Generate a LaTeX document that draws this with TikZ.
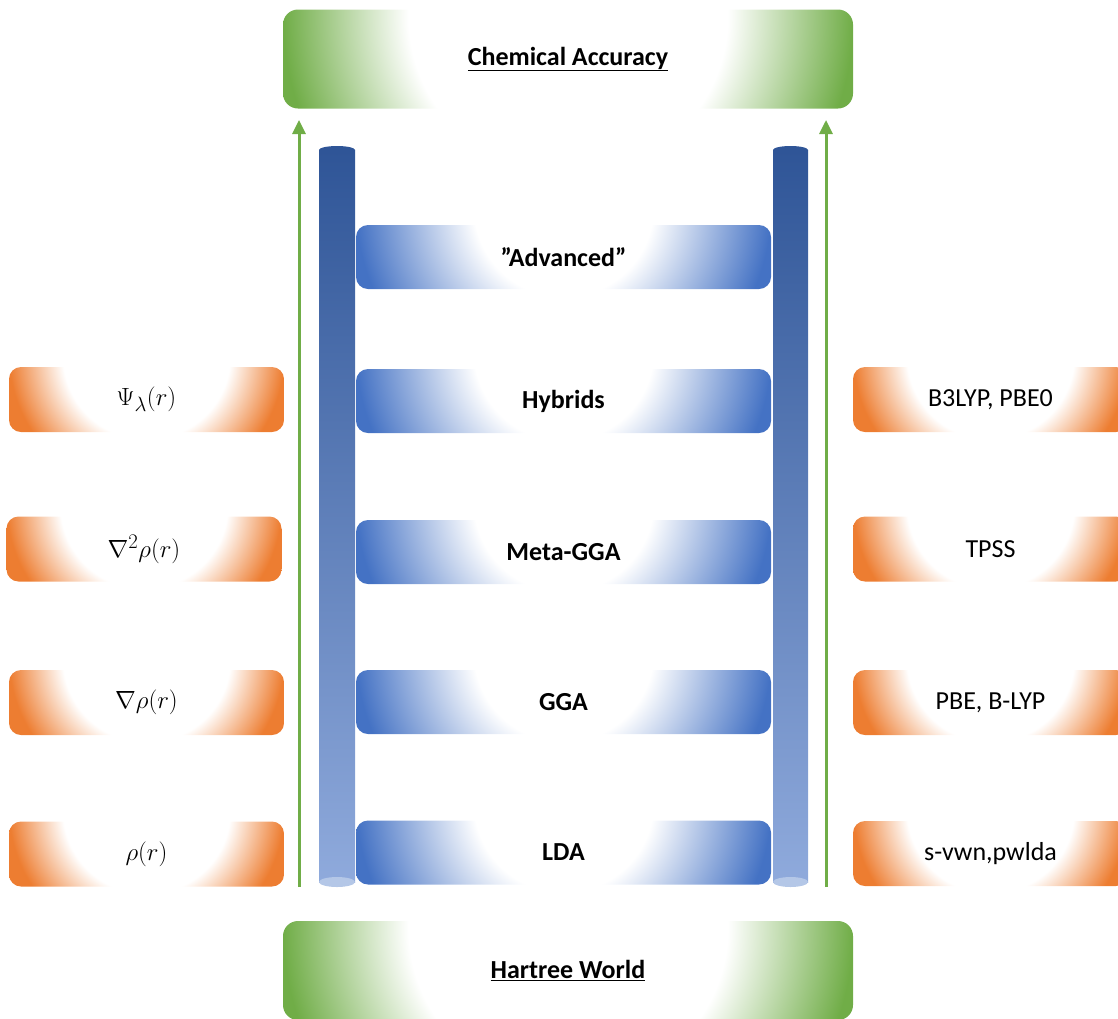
\documentclass[tikz,border=0pt]{standalone}
\usepackage{fontspec}
\setmainfont{Carlito}
\usetikzlibrary{calc,arrows.meta}
\definecolor{grn}{HTML}{70AD47}
\definecolor{blu}{HTML}{4472C4}
\definecolor{org}{HTML}{ED7D31}
\definecolor{raildark}{HTML}{2F5597}
\definecolor{raillight}{HTML}{8FAADC}
\definecolor{railcap}{HTML}{B4C7E7}
\pgfdeclareradialshading{greenglow}{\pgfpoint{0bp}{0bp}}{color(0bp)=(white); color(14bp)=(white); color(25bp)=(grn); color(50bp)=(grn)}
\pgfdeclareradialshading{blueglow}{\pgfpoint{0bp}{0bp}}{color(0bp)=(white); color(10.8bp)=(white); color(25bp)=(blu); color(50bp)=(blu)}
\pgfdeclareradialshading{orangeglow}{\pgfpoint{0bp}{0bp}}{color(0bp)=(white); color(15.2bp)=(white); color(25bp)=(org); color(50bp)=(org)}
\tikzset{
  glowbox/.style n args={2}{rectangle, rounded corners=12pt, inner sep=0pt, draw=none,
    path picture={
      \shade[shading=#1] let \p1=(path picture bounding box.west), \p2=(path picture bounding box.east), \n1={(\x2-\x1)/2} in
        ([xshift=-\n1, yshift=-\n1+#2]path picture bounding box.center) rectangle ([xshift=\n1, yshift=\n1+#2]path picture bounding box.center);
    }},
  greenbox/.style={glowbox={greenglow}{43pt}, minimum width=570pt, minimum height=99pt, rounded corners=15pt,
    font=\fontsize{26}{30}\selectfont\bfseries},
  rung/.style={glowbox={blueglow}{50pt}, minimum width=415pt, minimum height=64pt,
    font=\fontsize{26}{30}\selectfont\bfseries},
  obox/.style={glowbox={orangeglow}{44pt}, minimum width=275pt, minimum height=65pt,
    font=\fontsize{26}{30}\selectfont},
  mbox/.style={obox, font=\fontsize{28}{32}\selectfont},
  garrow/.style={draw=grn, line width=3pt, -{Triangle[length=14pt,width=13pt]}},
}
\begin{document}
\begin{tikzpicture}[x=1pt,y=-1pt]
\useasboundingbox (0,0) rectangle (1118,1018);
\clip (0,0) rectangle (1118,1018);

% rails
\shade[top color=raildark, middle color=blu, bottom color=raillight] (319,150) rectangle (355,882);
\fill[raildark] (337,150) ellipse [x radius=18, y radius=4];
\fill[railcap] (337,882) ellipse [x radius=18, y radius=5];
\shade[top color=raildark, middle color=blu, bottom color=raillight] (773,150) rectangle (808,882);
\fill[raildark] (790.5,150) ellipse [x radius=17.5, y radius=4];
\fill[railcap] (790.5,882) ellipse [x radius=17.5, y radius=5];

% green boxes
\node[greenbox] (top) at (568,59) {\underline{Chemical Accuracy}};
\node[greenbox] (bottom) at (568,970.5) {\underline{Hartree World}};

% rungs
\node[rung] (adv) at (563.5,257) {”Advanced”};
\node[rung] (hyb) at (563.5,401) {Hybrids};
\node[rung] (meta) at (563.5,552) {Meta-GGA};
\node[rung] (gga) at (563.5,702) {GGA};
\node[rung] (lda) at (563.5,852.5) {LDA};

% left orange boxes
\node[mbox] (l1) at (146.5,399.5) {$\Psi_\lambda(r)$};
\node[mbox] (l2) at (144,549) {$\nabla^2\rho(r)$};
\node[mbox] (l3) at (146.5,702.5) {$\nabla\rho(r)$};
\node[mbox] (l4) at (146.5,854) {$\rho(r)$};

% right orange boxes
\node[obox] (r1) at (990.5,399.5) {B3LYP, PBE0};
\node[obox] (r2) at (990.5,549) {TPSS};
\node[obox] (r3) at (990.5,702.5) {PBE, B-LYP};
\node[obox] (r4) at (990.5,853.5) {s-vwn,pwlda};

% arrows
\coordinate (la0) at (299,887);
\coordinate (la1) at (299,120);
\coordinate (ra0) at (826,887);
\coordinate (ra1) at (826,120);
\draw[garrow] (la0) -- (la1);
\draw[garrow] (ra0) -- (ra1);
\end{tikzpicture}
\end{document}
